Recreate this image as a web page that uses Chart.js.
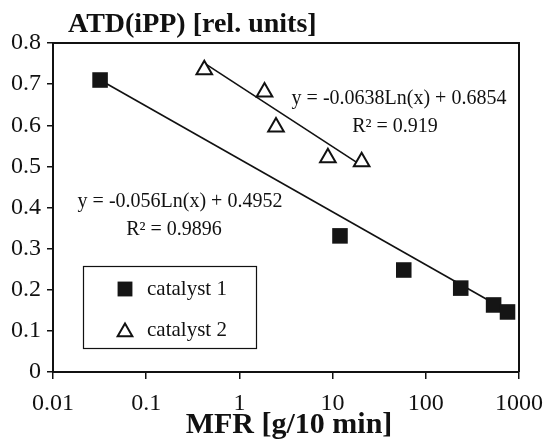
<!DOCTYPE html>
<html>
<head>
<meta charset="utf-8">
<script src="https://cdn.jsdelivr.net/npm/chart.js@4/dist/chart.umd.min.js"></script>
<style>
  html, body { margin: 0; padding: 0; background: #fff; }
  #c { display: block; }
</style>
</head>
<body>
<canvas id="c" width="553" height="448"></canvas>
<script>
// ---- data ----
const cat1MFR = [0.032, 12, 58, 237, 534, 753];
const cat1ATD = [0.71, 0.331, 0.248, 0.204, 0.163, 0.146];
const cat2MFR = [0.42, 1.86, 2.47, 8.9, 20.5];
const cat2ATD = [0.735, 0.681, 0.596, 0.521, 0.511];
const trend1MFR = [0.032, 630];
const trend1ATD = [0.71, 0.158];
const trend2MFR = [0.42, 17.8];
const trend2ATD = [0.751, 0.511];
const xTickValues = [0.01, 0.1, 1, 10, 100, 1000];
const xTickLabels = ['0.01', '0.1', '1', '10', '100', '1000'];
const yTickLabels = ['0', '0.1', '0.2', '0.3', '0.4', '0.5', '0.6', '0.7', '0.8'];
const seriesNames = ['catalyst 1', 'catalyst 2'];
const titleText = 'ATD(iPP) [rel. units]';
const xTitleText = 'MFR [g/10 min]';
const eq1 = ['y = -0.0638Ln(x) + 0.6854', 'R\u00B2 = 0.919'];
const eq2 = ['y = -0.056Ln(x) + 0.4952', 'R\u00B2 = 0.9896'];

const pts = (xs, ys) => xs.map((x, i) => ({ x: x, y: ys[i] }));
const SERIF = '"Liberation Serif", "Times New Roman", serif';

const decor = {
  id: 'decor',
  beforeDraw(chart) {
    const ctx = chart.ctx;
    ctx.save();
    ctx.fillStyle = '#fff';
    ctx.fillRect(0, 0, chart.width, chart.height);
    ctx.restore();
  },
  afterDraw(chart) {
    const ctx = chart.ctx;
    const a = chart.chartArea;
    ctx.save();
    // frame top & right
    ctx.strokeStyle = '#111';
    ctx.lineWidth = 2;
    ctx.beginPath();
    ctx.moveTo(a.left, a.top);
    ctx.lineTo(a.right, a.top);
    ctx.lineTo(a.right, a.bottom);
    ctx.stroke();

    ctx.fillStyle = '#111';
    // title
    ctx.font = 'bold 28px ' + SERIF;
    ctx.textAlign = 'left';
    ctx.textBaseline = 'alphabetic';
    ctx.fillText(titleText, 68, 32);
    // x title
    ctx.font = 'bold 30px ' + SERIF;
    ctx.textAlign = 'center';
    ctx.fillText(xTitleText, 289, 433);

    // equations
    ctx.font = '20px ' + SERIF;
    ctx.textAlign = 'center';
    ctx.fillText(eq1[0], 399, 104);
    ctx.fillText(eq1[1], 395, 132);
    ctx.fillText(eq2[0], 180, 207);
    ctx.fillText(eq2[1], 174, 235);

    // legend box
    ctx.lineWidth = 1.2;
    ctx.strokeRect(83.5, 266.5, 173, 82);
    const rows = [289, 330];
    ctx.font = '21px ' + SERIF;
    ctx.textAlign = 'left';
    ctx.textBaseline = 'middle';
    [0, 1].forEach(i => {
      const ds = chart.data.datasets[i];
      ctx.save();
      ctx.fillStyle = ds.backgroundColor;
      ctx.strokeStyle = ds.borderColor;
      ctx.lineWidth = ds.borderWidth;
      Chart.helpers.drawPoint(ctx, {
        pointStyle: ds.pointStyle,
        radius: i === 0 ? 10.5 : 8.5,
        borderWidth: ds.borderWidth
      }, 125, rows[i] + (i === 1 ? 2 : 0));
      ctx.restore();
      ctx.fillStyle = '#111';
      ctx.fillText(ds.label, 147, rows[i]);
    });
    ctx.restore();
  }
};

new Chart(document.getElementById('c'), {
  type: 'scatter',
  data: {
    datasets: [
      {
        label: seriesNames[0],
        data: pts(cat1MFR, cat1ATD),
        pointStyle: 'rect',
        pointRadius: 11,
        backgroundColor: '#151515',
        borderColor: '#151515',
        borderWidth: 0,
        showLine: false
      },
      {
        label: seriesNames[1],
        data: pts(cat2MFR, cat2ATD),
        pointStyle: 'triangle',
        pointRadius: 9,
        backgroundColor: '#ffffff',
        borderColor: '#111111',
        borderWidth: 2,
        showLine: false
      },
      {
        label: 'trend 1',
        data: pts(trend1MFR, trend1ATD),
        showLine: true,
        pointRadius: 0,
        borderColor: '#111',
        borderWidth: 1.6,
        fill: false
      },
      {
        label: 'trend 2',
        data: pts(trend2MFR, trend2ATD),
        showLine: true,
        pointRadius: 0,
        borderColor: '#111',
        borderWidth: 1.6,
        fill: false
      }
    ]
  },
  options: {
    responsive: false,
    animation: false,
    events: [],
    layout: { padding: { left: 0, right: 32, top: 43, bottom: 0 } },
    plugins: {
      legend: { display: false },
      title: { display: false },
      tooltip: { enabled: false }
    },
    scales: {
      x: {
        type: 'logarithmic',
        min: 0.01,
        max: 1000,
        afterBuildTicks: s => { s.ticks = xTickValues.map(v => ({ value: v })); },
        afterFit: s => { s.height = 76; },
        ticks: {
          autoSkip: false,
          maxRotation: 0,
          padding: 10,
          color: '#111',
          font: { family: SERIF, size: 24 },
          callback: (v) => { const i = xTickValues.indexOf(v); return i >= 0 ? xTickLabels[i] : ''; }
        },
        grid: { drawOnChartArea: false, tickLength: 7, color: '#111', lineWidth: 1.5 },
        border: { color: '#111', width: 2 }
      },
      y: {
        min: 0,
        max: 0.8,
        afterFit: s => { s.width = 53; },
        ticks: {
          stepSize: 0.1,
          padding: 6,
          color: '#111',
          font: { family: SERIF, size: 24 },
          callback: (v) => yTickLabels[Math.round(v * 10)]
        },
        grid: { drawOnChartArea: false, tickLength: 6, color: '#111', lineWidth: 1.5 },
        border: { color: '#111', width: 2 }
      }
    }
  },
  plugins: [decor]
});
</script>
</body>
</html>
